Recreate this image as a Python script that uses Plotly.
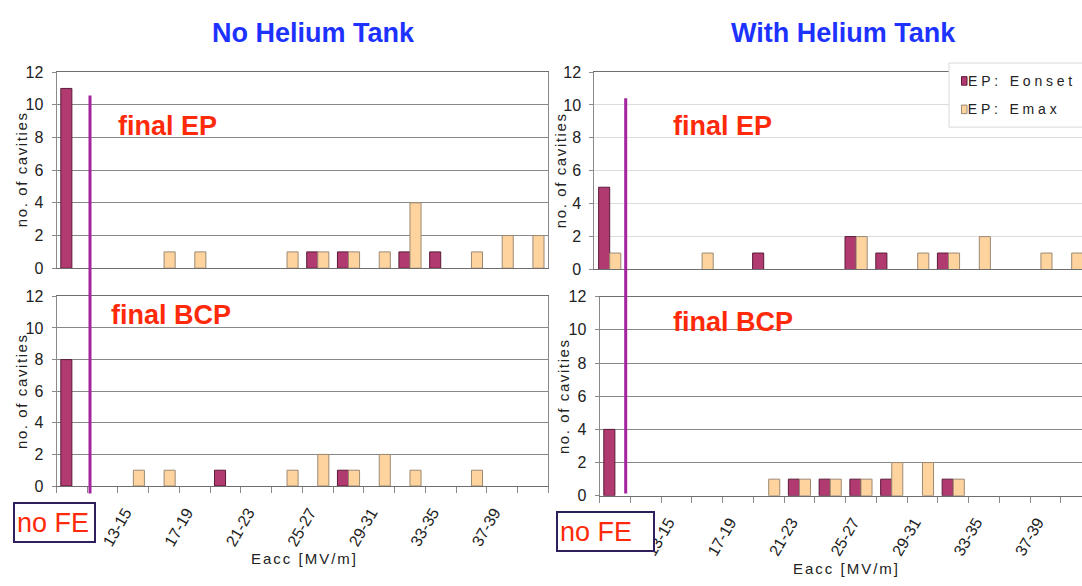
import plotly.graph_objects as go

W, H = 1082, 586
FONT = "Liberation Sans, Arial, sans-serif"

# Eacc bins (first bin = cavities without field emission)
categories = ["no FE", "11-13", "13-15", "15-17", "17-19", "19-21", "21-23", "23-25",
              "25-27", "27-29", "29-31", "31-33", "33-35", "35-37", "37-39", "39-41"]
tick_labels = ["", "", "13-15", "", "17-19", "", "21-23", "", "25-27", "",
               "29-31", "", "33-35", "", "37-39", ""]

# No helium tank
nht_ep_eonset = [11, 0, 0, 0, 0, 0, 0, 0, 1, 1, 0, 1, 1, 0, 0, 0]
nht_ep_emax = [0, 0, 0, 1, 1, 0, 0, 1, 1, 1, 1, 4, 0, 1, 2, 2]
nht_bcp_eonset = [8, 0, 0, 0, 0, 1, 0, 0, 0, 1, 0, 0, 0, 0, 0, 0]
nht_bcp_emax = [0, 0, 1, 1, 0, 0, 0, 1, 2, 1, 2, 1, 0, 1, 0, 0]

# With helium tank
wht_ep_eonset = [5, 0, 0, 0, 0, 1, 0, 0, 2, 1, 0, 1, 0, 0, 0, 0]
wht_ep_emax = [1, 0, 0, 1, 0, 0, 0, 0, 2, 0, 1, 1, 2, 0, 1, 1]
wht_bcp_eonset = [4, 0, 0, 0, 0, 0, 1, 1, 1, 1, 0, 1, 0, 0, 0, 0]
wht_bcp_emax = [0, 0, 0, 0, 0, 1, 1, 1, 1, 2, 2, 1, 0, 0, 0, 0]

series_names = ["EP: Eonset", "EP: Emax"]

EONSET_FILL, EONSET_EDGE = "#b13b70", "#5a1a38"
EMAX_FILL, EMAX_EDGE = "#fed39e", "#9c8a74"
PURPLE = "#a3249c"
RED = "#ff2a0a"
BLUE = "#1d32ff"

# extra letter spacing (px) applied to some texts in the page
SPACING = {"no. of cavities": 1.6, "Eacc [MV/m]": 2.0, "EP: Eonset": 3.8, "EP: Emax": 3.8}


def px(x):
    return x / W


def py(y):
    return 1 - y / H


def edge_widths(values):
    # no outline on empty bins, so nothing is drawn along the zero line
    return [1 if v > 0 else 0 for v in values]


# panel geometry in pixels: x-domain, y-domain (top, bottom), x range end, grid colour
panels = [
    dict(eon=nht_ep_eonset, emax=nht_ep_emax, xd=(56.5, 548.3), yd=(66, 268),
         xend=15.5, grid="#888888", labels=False, mirror_y=True),
    dict(eon=nht_bcp_eonset, emax=nht_bcp_emax, xd=(56.5, 548.3), yd=(297, 492.3),
         xend=15.5, grid="#888888", labels=True, mirror_y=True),
    dict(eon=wht_ep_eonset, emax=wht_ep_emax, xd=(594.3, W), yd=(66, 269.3),
         xend=-0.5 + (W - 594.3) / 30.8, grid="#dcdcdc", labels=False, mirror_y=False),
    dict(eon=wht_bcp_eonset, emax=wht_bcp_emax, xd=(599.5, W), yd=(297.3, 502.3),
         xend=-0.5 + (W - 599.5) / 30.76, grid="#888888", labels=True, mirror_y=False),
]

fig = go.Figure()
layout = {}
for i, p in enumerate(panels):
    suffix = "" if i == 0 else str(i + 1)
    xa, ya = "x" + suffix, "y" + suffix
    fig.add_trace(go.Bar(x=categories, y=p["eon"], name=series_names[0], xaxis=xa, yaxis=ya,
                         marker=dict(color=EONSET_FILL,
                                     line=dict(color=EONSET_EDGE, width=edge_widths(p["eon"]))),
                         showlegend=False))
    fig.add_trace(go.Bar(x=categories, y=p["emax"], name=series_names[1], xaxis=xa, yaxis=ya,
                         marker=dict(color=EMAX_FILL,
                                     line=dict(color=EMAX_EDGE, width=edge_widths(p["emax"]))),
                         showlegend=False))
    layout["xaxis" + suffix] = dict(
        domain=[px(p["xd"][0]), px(p["xd"][1])], anchor=ya,
        type="category", categoryorder="array", categoryarray=categories,
        range=[-0.5, p["xend"]],
        tickmode="array", tickvals=categories, ticktext=tick_labels,
        tickson="boundaries",
        ticks="outside" if p["labels"] else "", ticklen=6, tickcolor="#8a8a8a",
        showticklabels=p["labels"], tickangle=-60, ticklabelstandoff=10, ticklabelshift=-8,
        tickfont=dict(family=FONT, size=16, color="#222222"),
        showline=True, linecolor="#6e6e6e", linewidth=1, mirror=True,
        showgrid=False, zeroline=False, fixedrange=True,
    )
    layout["yaxis" + suffix] = dict(
        domain=[py(p["yd"][1]), py(p["yd"][0])], anchor=xa,
        range=[0, 12], tick0=0, dtick=2,
        ticks="outside", ticklen=4, tickcolor="#8a8a8a", ticklabelstandoff=5,
        tickfont=dict(family=FONT, size=16, color="#222222"),
        showline=True, linecolor="#8a8a8a", linewidth=1, mirror=p["mirror_y"],
        showgrid=True, gridcolor=p["grid"], gridwidth=1, zeroline=False, fixedrange=True,
    )

annotations = []


def text(x, y, s, size, color="#222222", bold=False, angle=0, xanchor="center"):
    annotations.append(dict(
        x=px(x), y=py(y), xref="paper", yref="paper", text=f"<b>{s}</b>" if bold else s,
        showarrow=False, textangle=angle, xanchor=xanchor, yanchor="middle",
        font=dict(family=FONT, size=size, color=color)))


# column titles
text(313, 26, "No Helium Tank", 27, color=BLUE, bold=True)
text(843, 26, "With Helium Tank", 27, color=BLUE, bold=True)

# treatment labels
text(167, 122, "final EP", 27, color=RED, bold=True)
text(171, 316, "final BCP", 27, color=RED, bold=True)
text(722, 122, "final EP", 27, color=RED, bold=True)
text(733, 323, "final BCP", 27, color=RED, bold=True)

# axis titles
for x, y in [(21, 166), (21, 394.5), (560, 167), (563, 399.7)]:
    text(x, y, "no. of cavities", 15, angle=-90)
text(304, 567, "Eacc [MV/m]", 15)
text(846, 577, "Eacc [MV/m]", 15)

# "no FE" boxes over the first category label
for x0, y0, w in [(12.7, 509, 83), (555.6, 518, 99)]:
    annotations.append(dict(
        x=px(x0), y=py(y0), xref="paper", yref="paper", text="no FE", showarrow=False,
        xanchor="left", yanchor="top", align="left", valign="middle",
        width=w - 8, height=33, borderpad=2, borderwidth=2,
        bordercolor="#2f1f5e", bgcolor="white",
        font=dict(family=FONT, size=27, color=RED)))

# legend entries (text is centred inside its box, so offset by half the added spacing)
for name, yc in zip(series_names, [75, 104.5]):
    text(966 + 0.5 * SPACING[name] * len(name), yc, name, 14, color="#222222", xanchor="left")

shapes = [
    # vertical separators between "no FE" and field-emission bins
    dict(type="line", xref="paper", yref="paper", x0=px(90), x1=px(90), y0=py(90), y1=py(500),
         line=dict(color=PURPLE, width=3), layer="above"),
    dict(type="line", xref="paper", yref="paper", x0=px(625.7), x1=px(625.7), y0=py(93), y1=py(500),
         line=dict(color=PURPLE, width=3), layer="above"),
    # legend frame and swatches
    dict(type="rect", xref="paper", yref="paper", x0=px(949), x1=px(1095), y0=py(56.7), y1=py(122.7),
         fillcolor="white", line=dict(color="#d9d9d9", width=1), layer="above"),
    dict(type="rect", xref="paper", yref="paper", x0=px(961.5), x1=px(967), y0=py(70.7), y1=py(79.5),
         fillcolor=EONSET_FILL, line=dict(color=EONSET_EDGE, width=1), layer="above"),
    dict(type="rect", xref="paper", yref="paper", x0=px(961.5), x1=px(967), y0=py(100), y1=py(108.8),
         fillcolor=EMAX_FILL, line=dict(color=EMAX_EDGE, width=1), layer="above"),
]

fig.update_layout(
    width=W, height=H, margin=dict(l=0, r=0, t=0, b=0, pad=0),
    paper_bgcolor="white", plot_bgcolor="white",
    barmode="group", bargap=0.28, bargroupgap=0,
    showlegend=False, annotations=annotations, shapes=shapes,
    font=dict(family=FONT, color="#222222"),
    **layout,
)

spacing_entries = ", ".join(f'"{k}": "{v}px"' for k, v in SPACING.items())
letter_spacing_js = """
var gd = document.getElementById('{plot_id}');
var spacing = {""" + spacing_entries + """};
function applySpacing() {
  gd.querySelectorAll('text').forEach(function (t) {
    var s = spacing[t.textContent];
    if (s) { t.style.letterSpacing = s; }
  });
}
applySpacing();
gd.on('plotly_afterplot', applySpacing);
"""

fig.write_html("out.html", post_script=letter_spacing_js, config={"displayModeBar": False})
